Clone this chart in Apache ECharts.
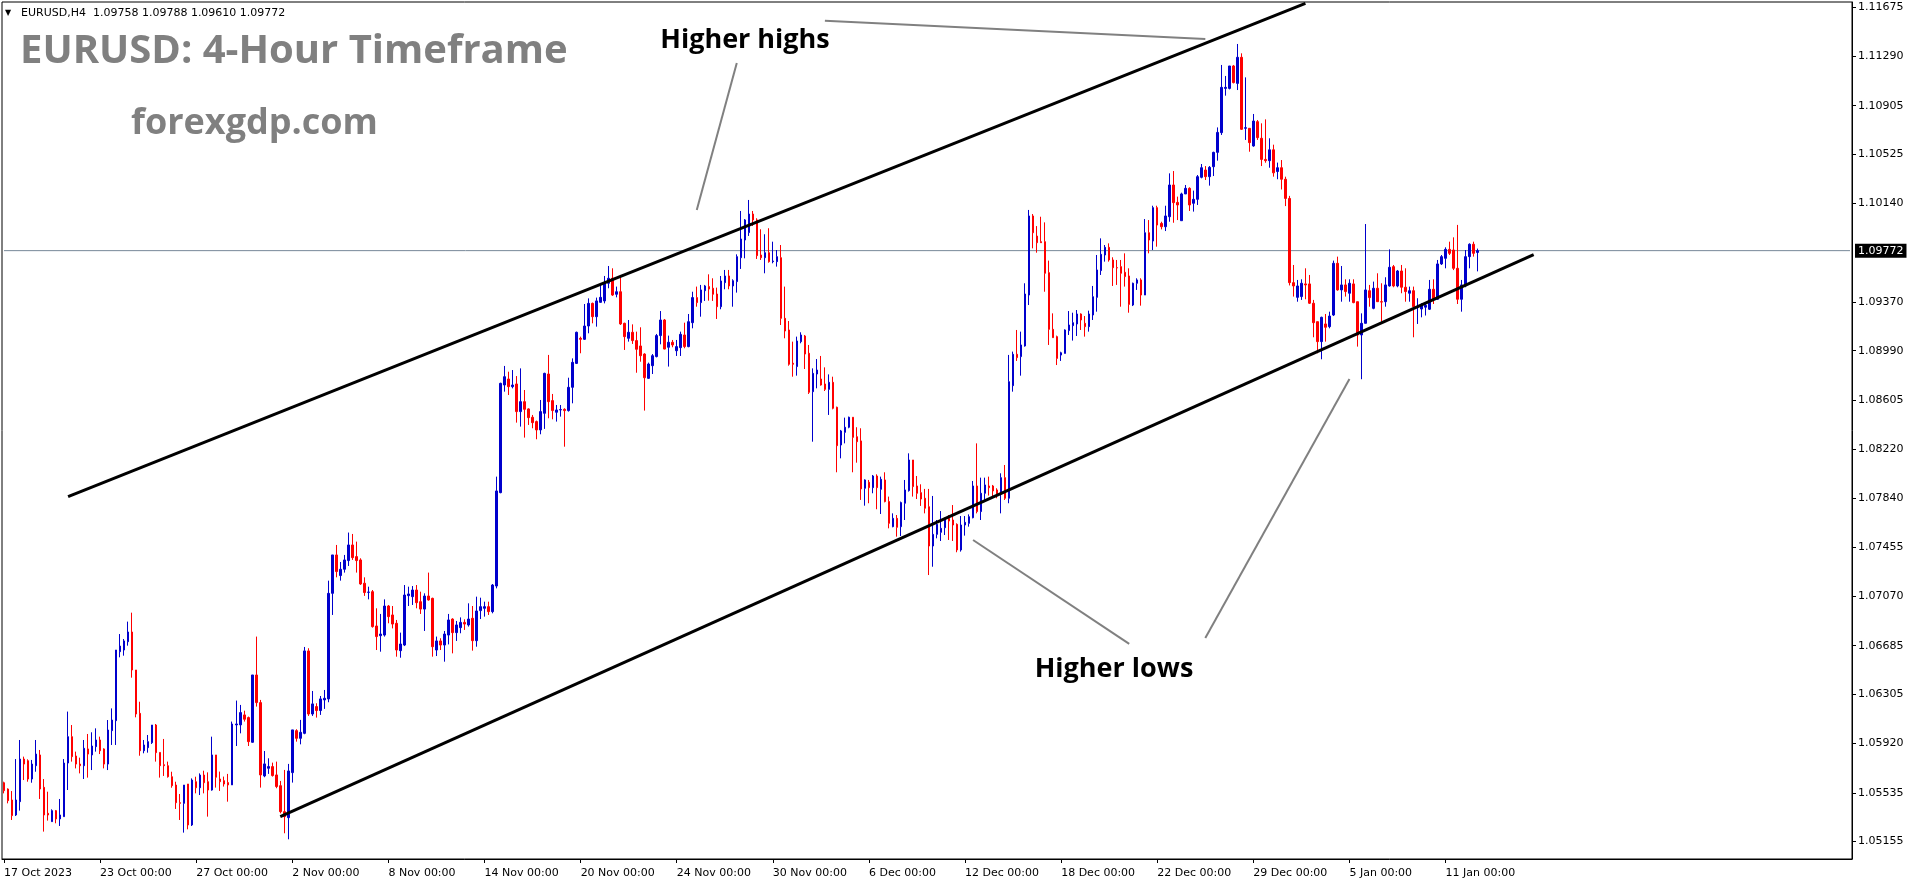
<!DOCTYPE html>
<html>
<head>
<meta charset="utf-8">
<script src="https://cdn.jsdelivr.net/npm/echarts@6/dist/echarts.min.js"></script>
<style>
html,body{margin:0;padding:0;background:#fff;}
#chart{width:1916px;height:884px;}
</style>
</head>
<body>
<div id="chart"></div>
<script>
// ---- data (EURUSD H4) ----
const barOpen = [
1.05614,1.05565,1.05479,1.05362,1.05466,1.05799,1.05786,1.05643,1.05747,1.05831,
1.05578,1.05375,1.05310,1.05396,1.05331,1.05349,1.05768,1.05974,1.05823,1.05760,
1.05747,1.05878,1.05831,1.05896,1.05948,1.05878,1.05760,1.06021,1.06099,1.06638,
1.06651,1.06716,1.06792,1.06495,1.06156,1.05864,1.05888,1.05927,1.06065,1.05851,
1.05755,1.05747,1.05661,1.05596,1.05458,1.05453,1.05604,1.05284,1.05622,1.05575,
1.05674,1.05622,1.05557,1.05831,1.05643,1.05630,1.05615,1.05597,1.06066,1.06066,
1.06144,1.06123,1.05930,1.06456,1.06240,1.05667,1.05727,1.05740,1.05675,1.05591,
1.05388,1.05341,1.05693,1.06021,1.05961,1.06000,1.06644,1.06151,1.06209,1.06178,
1.06261,1.06269,1.07094,1.07394,1.07233,1.07282,1.07350,1.07472,1.07381,1.07355,
1.07173,1.07102,1.07107,1.06839,1.06763,1.06768,1.06995,1.06925,1.06860,1.06646,
1.06690,1.07076,1.07068,1.07120,1.07029,1.06971,1.07073,1.07055,1.06651,1.06722,
1.06690,1.06768,1.06893,1.06787,1.06826,1.06867,1.06847,1.06899,1.06724,1.06959,
1.06977,1.06990,1.06951,1.07151,1.07881,1.08722,1.08769,1.08709,1.08730,1.08514,
1.08592,1.08535,1.08470,1.08436,1.08371,1.08501,1.08808,1.08600,1.08509,1.08527,
1.08532,1.08522,1.08704,1.08891,1.09087,1.09079,1.09183,1.09360,1.09256,1.09368,
1.09379,1.09517,1.09556,1.09431,1.09451,1.09204,1.09087,1.09134,1.09069,1.09027,
1.08964,1.08774,1.08873,1.08944,1.09108,1.09230,1.09017,1.09056,1.08990,1.09014,
1.09113,1.09022,1.09209,1.09405,1.09366,1.09459,1.09491,1.09478,1.09433,1.09334,
1.09522,1.09574,1.09496,1.09530,1.09717,1.09855,1.09913,1.10058,1.10012,1.09738,
1.09717,1.09756,1.09686,1.09686,1.09717,1.09243,1.09152,1.08892,1.08866,1.09061,
1.09105,1.08970,1.08670,1.08808,1.08769,1.08730,1.08688,1.08743,1.08548,1.08253,
1.08352,1.08392,1.08470,1.08318,1.08285,1.07915,1.07962,1.07920,1.08011,1.07907,
1.07980,1.07811,1.07615,1.07680,1.07615,1.07798,1.07897,1.08136,1.07933,1.07881,
1.07837,1.07771,1.07464,1.07555,1.07571,1.07607,1.07680,1.07667,1.07633,1.07433,
1.07628,1.07641,1.07685,1.07933,1.07733,1.07876,1.07933,1.07933,1.07902,1.07876,
1.07998,1.07837,1.08717,1.08962,1.08944,1.09027,1.09425,1.10043,1.09886,1.09842,
1.09842,1.09600,1.09157,1.09100,1.08956,1.08969,1.09147,1.09186,1.09199,1.09277,
1.09204,1.09178,1.09269,1.09407,1.09616,1.09738,1.09798,1.09699,1.09639,1.09647,
1.09603,1.09574,1.09347,1.09517,1.09543,1.09425,1.09912,1.09847,1.10108,1.09985,
1.09959,1.10037,1.10285,1.10149,1.10006,1.10215,1.10259,1.10142,1.10173,1.10345,
1.10402,1.10350,1.10428,1.10540,1.10694,1.11040,1.11040,1.11215,1.11079,1.11283,
1.10728,1.10728,1.10590,1.10780,1.10650,1.10485,1.10475,1.10560,1.10390,1.10420,
1.10330,1.10180,1.09522,1.09407,1.09413,1.09512,1.09512,1.09361,1.09217,1.09061,
1.09199,1.09178,1.09269,1.09673,1.09465,1.09504,1.09439,1.09512,1.09373,1.09113,
1.09204,1.09459,1.09321,1.09478,1.09373,1.09373,1.09496,1.09647,1.09496,1.09613,
1.09486,1.09439,1.09459,1.09327,1.09316,1.09330,1.09314,1.09470,1.09392,1.09668,
1.09712,1.09782,1.09777,1.09634,1.09392,1.09496,1.09725,1.09822,1.09758
];
const barClose = [
1.05552,1.05474,1.05357,1.05479,1.05799,1.05760,1.05643,1.05760,1.05838,1.05565,
1.05362,1.05362,1.05396,1.05331,1.05362,1.05768,1.05974,1.05818,1.05760,1.05747,
1.05883,1.05838,1.05901,1.05948,1.05864,1.05760,1.06026,1.06104,1.06651,1.06682,
1.06722,1.06792,1.06495,1.06151,1.05864,1.05909,1.05935,1.06065,1.05849,1.05747,
1.05747,1.05661,1.05591,1.05458,1.05453,1.05596,1.05284,1.05635,1.05575,1.05674,
1.05614,1.05557,1.05831,1.05657,1.05622,1.05604,1.05597,1.06073,1.06073,1.06162,
1.06110,1.05935,1.06456,1.06240,1.05675,1.05761,1.05740,1.05670,1.05584,1.05388,
1.05349,1.05706,1.06027,1.05961,1.06008,1.06644,1.06151,1.06230,1.06178,1.06269,
1.06274,1.07094,1.07394,1.07264,1.07282,1.07355,1.07472,1.07373,1.07350,1.07167,
1.07100,1.07104,1.06834,1.06756,1.06776,1.06995,1.06912,1.06854,1.06651,1.06698,
1.07081,1.07089,1.07120,1.07021,1.06971,1.07073,1.07042,1.06677,1.06722,1.06690,
1.06776,1.06886,1.06787,1.06847,1.06867,1.06854,1.06893,1.06724,1.06956,1.06990,
1.06990,1.06951,1.07159,1.07894,1.08735,1.08787,1.08709,1.08722,1.08514,1.08592,
1.08532,1.08467,1.08428,1.08371,1.08514,1.08813,1.08592,1.08522,1.08527,1.08530,
1.08522,1.08704,1.08899,1.09134,1.09079,1.09183,1.09360,1.09256,1.09379,1.09407,
1.09522,1.09556,1.09425,1.09451,1.09199,1.09100,1.09134,1.09069,1.09001,1.08951,
1.08779,1.08886,1.08951,1.09108,1.09230,1.09003,1.09056,1.09035,1.09022,1.09118,
1.09022,1.09217,1.09405,1.09366,1.09465,1.09496,1.09472,1.09431,1.09334,1.09535,
1.09574,1.09496,1.09537,1.09725,1.09863,1.10012,1.10058,1.10012,1.09733,1.09717,
1.09756,1.09686,1.09691,1.09725,1.09243,1.09144,1.08884,1.08884,1.09066,1.09113,
1.08964,1.08665,1.08813,1.08839,1.08722,1.08688,1.08743,1.08540,1.08248,1.08363,
1.08392,1.08470,1.08313,1.08279,1.07910,1.07980,1.07920,1.08011,1.07920,1.07985,
1.07811,1.07641,1.07680,1.07610,1.07803,1.07902,1.08136,1.07928,1.07876,1.07831,
1.07759,1.07464,1.07555,1.07633,1.07602,1.07680,1.07659,1.07628,1.07433,1.07628,
1.07649,1.07693,1.07933,1.07733,1.07876,1.07941,1.07920,1.07894,1.07868,1.07998,
1.07837,1.08748,1.08962,1.08936,1.09035,1.09433,1.10043,1.09912,1.09834,1.09834,
1.09595,1.09157,1.09092,1.08930,1.08974,1.09152,1.09191,1.09209,1.09277,1.09230,
1.09178,1.09277,1.09412,1.09621,1.09743,1.09798,1.09699,1.09639,1.09637,1.09595,
1.09569,1.09352,1.09517,1.09543,1.09425,1.09912,1.09855,1.10108,1.09972,1.09959,
1.10043,1.10285,1.10147,1.10129,1.10215,1.10259,1.10129,1.10173,1.10350,1.10420,
1.10350,1.10423,1.10540,1.10696,1.11048,1.11048,1.11215,1.11085,1.11283,1.10720,
1.10733,1.10616,1.10785,1.10655,1.10485,1.10475,1.10560,1.10380,1.10420,1.10330,
1.10180,1.09522,1.09496,1.09496,1.09517,1.09504,1.09361,1.09209,1.09061,1.09251,
1.09173,1.09261,1.09673,1.09465,1.09504,1.09452,1.09517,1.09366,1.09113,1.09204,
1.09465,1.09405,1.09478,1.09373,1.09370,1.09504,1.09642,1.09496,1.09613,1.09486,
1.09452,1.09459,1.09334,1.09334,1.09347,1.09345,1.09470,1.09392,1.09668,1.09725,
1.09782,1.09751,1.09634,1.09392,1.09504,1.09725,1.09822,1.09751,1.09772
];
const barLow = [
1.05531,1.05453,1.05323,1.05354,1.05396,1.05635,1.05622,1.05614,1.05700,1.05487,
1.05232,1.05318,1.05310,1.05297,1.05276,1.05349,1.05557,1.05779,1.05726,1.05687,
1.05643,1.05654,1.05713,1.05857,1.05838,1.05726,1.05713,1.05909,1.05909,1.06594,
1.06607,1.06685,1.06435,1.06125,1.05825,1.05844,1.05849,1.05917,1.05779,1.05654,
1.05667,1.05654,1.05575,1.05409,1.05323,1.05224,1.05250,1.05276,1.05531,1.05518,
1.05531,1.05349,1.05552,1.05576,1.05550,1.05584,1.05466,1.05597,1.05901,1.06000,
1.06092,1.05901,1.05927,1.06209,1.05576,1.05657,1.05683,1.05662,1.05571,1.05375,
1.05219,1.05172,1.05615,1.05935,1.05914,1.05993,1.06136,1.06136,1.06123,1.06144,
1.06191,1.06243,1.06925,1.07219,1.07193,1.07256,1.07308,1.07355,1.07256,1.07160,
1.07074,1.07047,1.06826,1.06651,1.06638,1.06756,1.06860,1.06820,1.06599,1.06591,
1.06682,1.06995,1.07003,1.06977,1.06933,1.06800,1.07037,1.06599,1.06604,1.06651,
1.06560,1.06695,1.06625,1.06722,1.06782,1.06808,1.06834,1.06646,1.06677,1.06893,
1.06912,1.06925,1.06938,1.07133,1.07876,1.08670,1.08644,1.08696,1.08428,1.08397,
1.08311,1.08410,1.08384,1.08298,1.08337,1.08379,1.08462,1.08454,1.08436,1.08475,
1.08240,1.08514,1.08579,1.08886,1.08970,1.09074,1.09126,1.09204,1.09178,1.09366,
1.09360,1.09478,1.09418,1.09407,1.09191,1.08996,1.09061,1.09043,1.08818,1.08904,
1.08522,1.08769,1.08808,1.08938,1.09040,1.09001,1.08866,1.09017,1.08949,1.08949,
1.09009,1.09017,1.09165,1.09334,1.09256,1.09379,1.09381,1.09379,1.09238,1.09314,
1.09470,1.09470,1.09334,1.09444,1.09629,1.09712,1.09887,1.09965,1.09707,1.09699,
1.09595,1.09678,1.09673,1.09647,1.09191,1.09087,1.08873,1.08787,1.08795,1.09048,
1.08847,1.08652,1.08279,1.08696,1.08717,1.08675,1.08488,1.08532,1.08040,1.08149,
1.08266,1.08384,1.08040,1.08115,1.07824,1.07779,1.07798,1.07876,1.07751,1.07714,
1.07805,1.07602,1.07610,1.07537,1.07542,1.07667,1.07889,1.07850,1.07831,1.07777,
1.07719,1.07237,1.07302,1.07524,1.07503,1.07550,1.07511,1.07503,1.07415,1.07420,
1.07545,1.07615,1.07680,1.07719,1.07667,1.07816,1.07858,1.07850,1.07837,1.07719,
1.07824,1.07798,1.08670,1.08910,1.08795,1.09022,1.09347,1.09790,1.09756,1.09834,
1.09451,1.09035,1.09092,1.08878,1.08910,1.08969,1.09113,1.09069,1.09105,1.09152,
1.09100,1.09139,1.09230,1.09295,1.09582,1.09686,1.09686,1.09496,1.09504,1.09334,
1.09491,1.09287,1.09339,1.09465,1.09342,1.09425,1.09751,1.09777,1.09803,1.09938,
1.09925,1.09998,1.09990,1.10011,1.10006,1.10215,1.10082,1.10077,1.10129,1.10337,
1.10324,1.10280,1.10355,1.10475,1.10676,1.10983,1.11032,1.11079,1.11027,1.10715,
1.10637,1.10545,1.10584,1.10637,1.10433,1.10459,1.10420,1.10350,1.10330,1.10250,
1.10120,1.09500,1.09413,1.09373,1.09387,1.09392,1.09355,1.09095,1.08970,1.08923,
1.09061,1.09165,1.09261,1.09459,1.09373,1.09413,1.09373,1.09361,1.09022,1.08767,
1.09204,1.09334,1.09314,1.09373,1.09217,1.09334,1.09491,1.09486,1.09486,1.09439,
1.09373,1.09373,1.09095,1.09199,1.09251,1.09265,1.09308,1.09355,1.09387,1.09660,
1.09634,1.09738,1.09620,1.09355,1.09295,1.09486,1.09634,1.09725,1.09610
];
const barHigh = [
1.05622,1.05570,1.05549,1.05799,1.05948,1.05818,1.05797,1.05792,1.05948,1.05870,
1.05643,1.05544,1.05406,1.05401,1.05487,1.05799,1.06170,1.06065,1.05857,1.05810,
1.05948,1.05995,1.06008,1.06039,1.05974,1.05883,1.06104,1.06195,1.06651,1.06776,
1.06737,1.06873,1.06943,1.06495,1.06247,1.05948,1.05987,1.06065,1.06073,1.05851,
1.05956,1.05779,1.05700,1.05622,1.05526,1.05596,1.05604,1.05648,1.05661,1.05687,
1.05708,1.05695,1.05974,1.05831,1.05701,1.05662,1.05683,1.06092,1.06256,1.06222,
1.06177,1.06131,1.06456,1.06756,1.06261,1.05862,1.05805,1.05771,1.05779,1.05628,
1.05714,1.05761,1.06027,1.06032,1.06105,1.06675,1.06665,1.06331,1.06235,1.06292,
1.06339,1.07193,1.07394,1.07472,1.07339,1.07394,1.07569,1.07558,1.07498,1.07368,
1.07219,1.07146,1.07120,1.06977,1.06933,1.07047,1.07003,1.06995,1.06886,1.06787,
1.07159,1.07146,1.07151,1.07159,1.07107,1.07094,1.07256,1.07060,1.06756,1.06743,
1.06800,1.06933,1.06899,1.06878,1.06906,1.06891,1.07016,1.06995,1.07068,1.07060,
1.07029,1.07029,1.07167,1.08006,1.08740,1.08871,1.08826,1.08839,1.08792,1.08852,
1.08683,1.08540,1.08488,1.08444,1.08605,1.08818,1.08957,1.08652,1.08566,1.08566,
1.08540,1.08779,1.08930,1.09139,1.09100,1.09355,1.09399,1.09366,1.09405,1.09504,
1.09574,1.09652,1.09634,1.09491,1.09582,1.09209,1.09230,1.09196,1.09139,1.09173,
1.08970,1.08897,1.08964,1.09121,1.09300,1.09238,1.09108,1.09074,1.09074,1.09139,
1.09209,1.09277,1.09451,1.09491,1.09504,1.09504,1.09587,1.09556,1.09483,1.09574,
1.09621,1.09621,1.09548,1.09743,1.10082,1.10019,1.10168,1.10082,1.10025,1.09939,
1.09900,1.09947,1.09842,1.09777,1.09816,1.09491,1.09222,1.09061,1.09100,1.09134,
1.09113,1.09035,1.08852,1.08925,1.08949,1.08860,1.08805,1.08787,1.08553,1.08371,
1.08467,1.08475,1.08470,1.08392,1.08384,1.07985,1.07980,1.08019,1.08024,1.08006,
1.08040,1.07850,1.07719,1.07706,1.07811,1.07980,1.08188,1.08136,1.08011,1.07946,
1.07910,1.07910,1.07855,1.07667,1.07737,1.07685,1.07706,1.07784,1.07641,1.07698,
1.07698,1.07711,1.07972,1.08266,1.07998,1.07998,1.08006,1.07941,1.07915,1.08032,
1.08097,1.08957,1.08983,1.09152,1.09139,1.09517,1.10090,1.10058,1.09964,1.10037,
1.09993,1.09694,1.09282,1.09108,1.08982,1.09157,1.09300,1.09287,1.09308,1.09282,
1.09261,1.09303,1.09496,1.09738,1.09868,1.09816,1.09829,1.09720,1.09699,1.09699,
1.09751,1.09634,1.09522,1.09556,1.09556,1.10019,1.10011,1.10123,1.10123,1.09998,
1.10123,1.10376,1.10394,1.10194,1.10225,1.10285,1.10267,1.10241,1.10363,1.10449,
1.10433,1.10433,1.10545,1.10735,1.11223,1.11137,1.11215,1.11223,1.11387,1.11314,
1.11126,1.10728,1.10840,1.10793,1.10767,1.10798,1.10650,1.10600,1.10460,1.10480,
1.10350,1.10200,1.09660,1.09543,1.09548,1.09634,1.09582,1.09387,1.09217,1.09256,
1.09277,1.09295,1.09694,1.09725,1.09652,1.09548,1.09548,1.09548,1.09373,1.09282,
1.09980,1.09504,1.09530,1.09595,1.09517,1.09564,1.09782,1.09660,1.09621,1.09660,
1.09634,1.09491,1.09491,1.09400,1.09361,1.09361,1.09543,1.09548,1.09699,1.09738,
1.09798,1.09842,1.09876,1.09973,1.09543,1.09777,1.09829,1.09842,1.09788
];
const xTickLabels = ['17 Oct 2023','23 Oct 00:00','27 Oct 00:00','2 Nov 00:00','8 Nov 00:00','14 Nov 00:00','20 Nov 00:00','24 Nov 00:00','30 Nov 00:00','6 Dec 00:00','12 Dec 00:00','18 Dec 00:00','22 Dec 00:00','29 Dec 00:00','5 Jan 00:00','11 Jan 00:00'];
const barsPerLabel = 24;
const yTickValues = [1.05155,1.05535,1.05920,1.06305,1.06685,1.07070,1.07455,1.07840,1.08220,1.08605,1.08990,1.09370,1.10140,1.10525,1.10905,1.11290,1.11675];
const lastPrice = 1.09772;
const headerText = 'EURUSD,H4  1.09758 1.09788 1.09610 1.09772';
const titleText = 'EURUSD: 4-Hour Timeframe';
const siteText = 'forexgdp.com';
// trend / annotation lines as [barIndex, price] pairs
const trendUpper = [[16, 1.07850], [325, 1.11705]];
const trendLower = [[69, 1.05350], [382, 1.09740]];
const pointerHighs = [[173, 1.10090], [183, 1.11239]];
const pointerTop = [[205, 1.11568], [300, 1.11425]];
const pointerLows1 = [[242, 1.07511], [281, 1.06699]];
const pointerLows2 = [[300, 1.06745], [336, 1.08769]];
const priceMin = 1.05018, priceMax = 1.11715;

// ---- chart ----
const nSlots = 462;
const slots = Array.from({length: nSlots}, (_, i) => i);
const candles = barOpen.map((o, i) => [o, barClose[i], barLow[i], barHigh[i]]);
const isLabel = (i) => i % barsPerLabel === 0 && i / barsPerLabel < xTickLabels.length;
const AX_FONT = 'DejaVu Sans';

function lineSeries(data, color, width, extra) {
  return Object.assign({type: 'line', data: data, symbol: 'none', silent: true, z: 5,
    lineStyle: {color: color, width: width}, emphasis: {disabled: true}}, extra || {});
}

// current-price line spanning all slots, with its value box at the right end
const priceLineData = [[0, lastPrice], [nSlots - 1, lastPrice]];

const chart = echarts.init(document.getElementById('chart'), null, {renderer: 'canvas'});
chart.setOption({
  animation: false,
  backgroundColor: '#fff',
  grid: {left: 2, top: 2, right: 64, bottom: 25, show: true, borderColor: '#000', borderWidth: 1},
  xAxis: {
    type: 'category', data: slots, boundaryGap: true,
    axisLine: {show: true, lineStyle: {color: '#000', width: 1}},
    axisTick: {show: true, alignWithLabel: true, interval: (i) => isLabel(i), length: 4, lineStyle: {color: '#000'}},
    axisLabel: {interval: (i) => isLabel(i), formatter: (v) => xTickLabels[Math.round(Number(v) / barsPerLabel)] || '',
      align: 'left', margin: 9, color: '#000', fontFamily: AX_FONT, fontSize: 11},
    splitLine: {show: false}
  },
  yAxis: {
    type: 'value', position: 'right', min: priceMin, max: priceMax, scale: true,
    axisLine: {show: true, lineStyle: {color: '#000'}},
    axisTick: {show: true, length: 4, customValues: yTickValues, lineStyle: {color: '#000'}},
    axisLabel: {customValues: yTickValues, formatter: (v) => v.toFixed(5), color: '#000', fontFamily: AX_FONT, fontSize: 11, margin: 6},
    splitLine: {show: false}
  },
  series: [
    lineSeries(priceLineData, '#778899', 1, {
      z: 1,
      endLabel: {show: true, formatter: lastPrice.toFixed(5), color: '#fff', backgroundColor: '#000',
        padding: [2, 3, 1, 3], fontFamily: AX_FONT, fontSize: 11, distance: 5}
    }),
    {
      type: 'candlestick', data: candles, barWidth: 2, silent: true, emphasis: {disabled: true}, z: 2,
      itemStyle: {color: '#0000cc', color0: '#ff0000', borderColor: '#0000cc', borderColor0: '#ff0000', borderWidth: 1}
    },
    lineSeries(trendUpper, '#000', 3),
    lineSeries(trendLower, '#000', 3),
    lineSeries(pointerHighs, '#808080', 2),
    lineSeries(pointerTop, '#808080', 2),
    lineSeries(pointerLows1, '#808080', 2),
    lineSeries(pointerLows2, '#808080', 2)
  ],
  graphic: [
    {type: 'text', x: 5, y: 13, style: {text: '\u25BC', fill: '#000', font: '8px "DejaVu Sans"', verticalAlign: 'middle', textVerticalAlign: 'middle'}},
    {type: 'text', x: 21, y: 13, style: {text: headerText, fill: '#000', font: '11px "DejaVu Sans"', verticalAlign: 'middle', textVerticalAlign: 'middle'}},
    {type: 'text', x: 20, y: 52, style: {text: titleText, fill: '#808080', font: 'bold 40px "Open Sans"', verticalAlign: 'middle', textVerticalAlign: 'middle'}},
    {type: 'text', x: 131, y: 124, style: {text: siteText, fill: '#808080', font: 'bold 36px "Open Sans"', verticalAlign: 'middle', textVerticalAlign: 'middle'}},
    {type: 'text', x: 745, y: 40, style: {text: 'Higher highs', fill: '#000', font: 'bold 27px "Open Sans"', align: 'center', textAlign: 'center', verticalAlign: 'middle', textVerticalAlign: 'middle'}},
    {type: 'text', x: 1114, y: 669, style: {text: 'Higher lows', fill: '#000', font: 'bold 27px "Open Sans"', align: 'center', textAlign: 'center', verticalAlign: 'middle', textVerticalAlign: 'middle'}}
  ]
});
</script>
</body>
</html>
